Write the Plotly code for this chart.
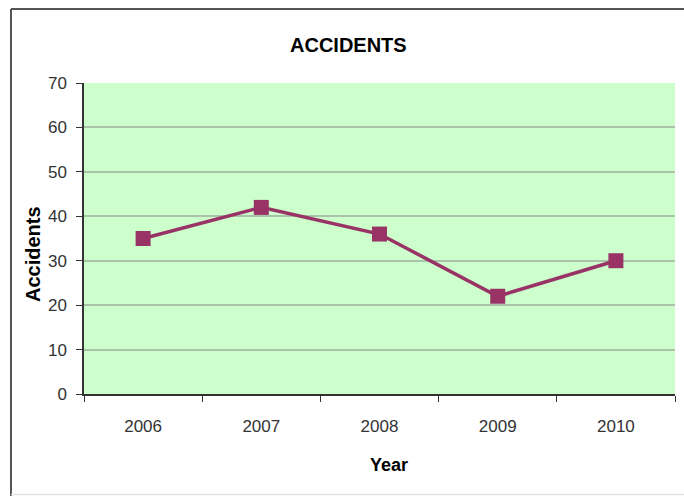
import plotly.graph_objects as go

years = ["2006", "2007", "2008", "2009", "2010"]
accidents = [35, 42, 36, 22, 30]
y_ticks = [0, 10, 20, 30, 40, 50, 60, 70]

W, H = 684, 496
L, R, T, B = 84, 9, 83, 102
pw, ph = W - L - R, H - T - B

def px(x):
    return (x - L) / pw

def py(y):
    return (H - B - y) / ph

font = "Liberation Sans, Arial, sans-serif"

fig = go.Figure()
fig.add_trace(go.Scatter(
    x=years, y=accidents, mode="lines+markers",
    line=dict(color="#993366", width=3.5),
    marker=dict(symbol="square", size=15, color="#993366"),
    showlegend=False,
))

fig.update_layout(
    width=W, height=H,
    margin=dict(l=L, r=R, t=T, b=B),
    paper_bgcolor="white",
    plot_bgcolor="#ccffcc",
    xaxis=dict(
        type="category", range=[-0.5, 4.5], tickson="boundaries",
        ticks="outside", ticklen=6, tickcolor="#333", tickwidth=1,
        showline=True, linecolor="#333", linewidth=1.5,
        showgrid=False, zeroline=False,
        tickfont=dict(family=font, size=17, color="#333"),
        ticklabelstandoff=16,
    ),
    yaxis=dict(
        range=[0, 70], tickvals=y_ticks,
        ticks="outside", ticklen=6, tickcolor="#333", tickwidth=1,
        showline=True, linecolor="#333", linewidth=1.5,
        showgrid=True, gridcolor="#aac4aa", gridwidth=1.5,
        zeroline=False,
        tickfont=dict(family=font, size=17, color="#333"),
        ticklabelstandoff=6,
    ),
    annotations=[
        dict(text="<b>ACCIDENTS</b>", xref="paper", yref="paper",
             x=px(348), y=py(45), xanchor="center", yanchor="middle",
             showarrow=False,
             font=dict(family=font, size=20, color="black")),
        dict(text="<b>Year</b>", xref="paper", yref="paper",
             x=px(389), y=py(465), xanchor="center", yanchor="middle",
             showarrow=False,
             font=dict(family=font, size=18, color="black")),
        dict(text="<b>Accidents</b>", xref="paper", yref="paper",
             x=px(33), y=py(254), xanchor="center", yanchor="middle",
             showarrow=False, textangle=-90,
             font=dict(family=font, size=20, color="black")),
    ],
    shapes=[
        dict(type="line", xref="paper", yref="paper",
             x0=px(11), x1=px(11), y0=py(496), y1=py(9),
             line=dict(color="#555", width=2), layer="below"),
        dict(type="line", xref="paper", yref="paper",
             x0=px(11), x1=px(684), y0=py(9), y1=py(9),
             line=dict(color="#555", width=2), layer="below"),
        dict(type="line", xref="paper", yref="paper",
             x0=px(11), x1=px(684), y0=py(494.5), y1=py(494.5),
             line=dict(color="#e4e4e4", width=1.5), layer="below"),
    ],
)

fig.write_html(
    "out.html",
    config={"displayModeBar": False},
    post_script=(
        "document.documentElement.style.margin='0';"
        "document.documentElement.style.overflow='hidden';"
        "document.body.style.margin='0';"
        "document.body.style.overflow='hidden';"
        "document.body.style.background='white';"
    ),
)
